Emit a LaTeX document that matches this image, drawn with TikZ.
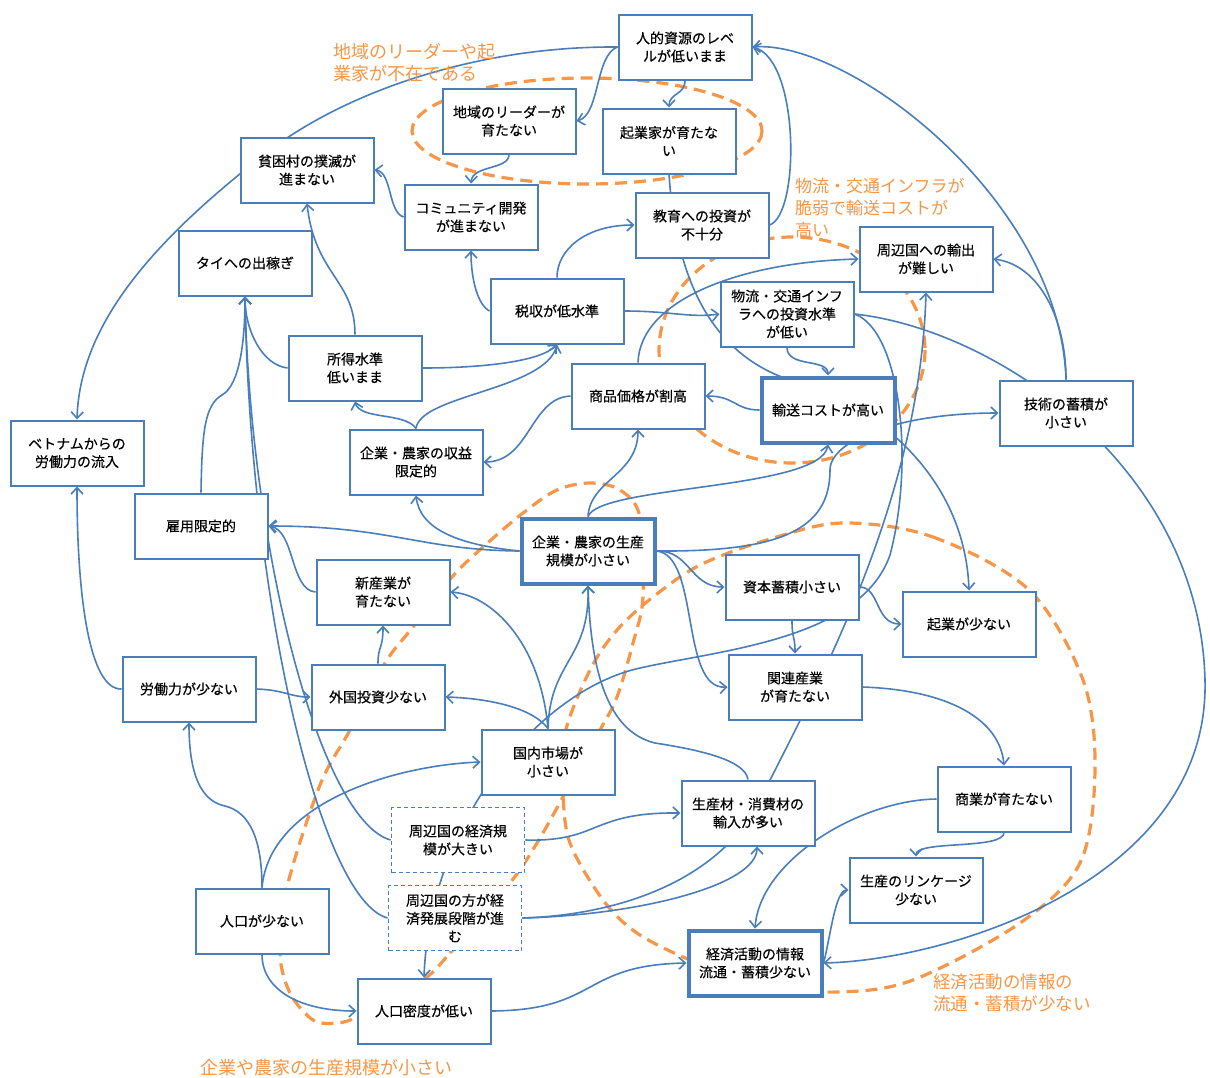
\documentclass[tikz,border=0pt]{standalone}
\usepackage{fontspec}
\setmainfont{Noto Sans CJK JP}
\newfontfamily\boxfont{Noto Sans CJK JP}[FakeBold=0.35]
\usetikzlibrary{arrows.meta}
\definecolor{blu}{HTML}{4A7EBB}
\definecolor{org}{HTML}{F79646}
\pgfdeclarelayer{back}
\pgfdeclarelayer{lines}
\pgfsetlayers{back,lines,main}
\tikzset{
  box/.style={draw=blu, line width=2pt, fill=white, minimum width=133pt,
    minimum height=65pt, align=center, inner sep=2pt,
    font=\boxfont\fontsize{14}{18}\selectfont},
  keybox/.style={box, line width=4pt},
  dbox/.style={box, line width=1.8pt, dash pattern=on 4pt off 3pt},
  conn/.style={draw=blu, line width=1.6pt, -{Straight Barb[length=6.5pt,width=12pt]}},
  ring/.style={draw=org, line width=3.2pt, dash pattern=on 12pt off 7pt},
  tag/.style={text=org, align=left, anchor=north west, inner sep=0pt}
}
\begin{document}
\begin{tikzpicture}[x=1pt,y=-1pt]
\useasboundingbox (0,0) rectangle (1210,1077);
\begin{pgfonlayer}{back}
  \fill[white] (0,0) rectangle (1210,1077);
\end{pgfonlayer}

% ---- boxes ----
\node[box] (hr)    at (685,47)  {人的資源のレベ\\ルが低いまま};
\node[box] (lead)  at (509,121) {地域のリーダーが\\育たない};
\node[box] (entr)  at (669,141) {起業家が育たな\\い};
\node[box] (pov)   at (307,170) {貧困村の撲滅が\\進まない};
\node[box] (comm)  at (471,217) {コミュニティ開発\\が進まない};
\node[box] (edu)   at (702,225) {教育への投資が\\不十分};
\node[box] (thai)  at (245,263) {タイへの出稼ぎ};
\node[box] (exp)   at (926,259) {周辺国への輸出\\が難しい};
\node[box] (tax)   at (557,311) {税収が低水準};
\node[box] (infra) at (787,314) {物流・交通インフ\\ラへの投資水準\\が低い};
\node[box] (inc)   at (355,368) {所得水準\\低いまま};
\node[box] (price) at (638,396) {商品価格が割高};
\node[keybox] (trans) at (828,410) {輸送コストが高い};
\node[box] (tech)  at (1066,413) {技術の蓄積が\\小さい};
\node[box] (viet)  at (77,453)  {ベトナムからの\\労働力の流入};
\node[box] (prof)  at (416,462) {企業・農家の収益\\限定的};
\node[box] (empl)  at (201,526) {雇用限定的};
\node[keybox] (scale) at (588,551) {企業・農家の生産\\規模が小さい};
\node[box] (newind) at (383,592) {新産業が\\育たない};
\node[box] (cap)   at (792,587) {資本蓄積小さい};
\node[box] (start) at (969,624) {起業が少ない};
\node[box] (labor) at (189,689) {労働力が少ない};
\node[box] (fdi)   at (378,697) {外国投資少ない};
\node[box] (rel)   at (795,687) {関連産業\\が育たない};
\node[box] (dom)   at (548,762) {国内市場が\\小さい};
\node[box] (imp)   at (748,813) {生産材・消費材の\\輸入が多い};
\node[box] (comm2) at (1004,799) {商業が育たない};
\node[dbox] (nbsize) at (458,840) {周辺国の経済規\\模が大きい};
\node[box] (link)  at (916,890) {生産のリンケージ\\少ない};
\node[box] (pop)   at (262,921) {人口が少ない};
\node[dbox] (nbdev) at (455,918) {周辺国の方が経\\済発展段階が進\\む};
\node[keybox] (info) at (755,963) {経済活動の情報\\流通・蓄積少ない};
\node[box] (dens)  at (424,1011) {人口密度が低い};

% ---- group labels ----
\node[tag, font=\fontsize{18}{22}\selectfont] (t1) at (333,43) {地域のリーダーや起\\業家が不在である};
\node[tag, font=\fontsize{17}{22}\selectfont] (t2) at (795,178) {物流・交通インフラが\\脆弱で輸送コストが\\高い};
\node[tag, font=\fontsize{17.5}{22}\selectfont] (t3) at (933,974) {経済活動の情報の\\流通・蓄積が少ない};
\node[tag, font=\fontsize{18}{22}\selectfont] (t4) at (200,1059) {企業や農家の生産規模が小さい};

\begin{pgfonlayer}{lines}
% ---- dashed group outlines ----
\draw[ring] (587,131) ellipse [x radius=175, y radius=53];
\draw[ring] (792,350) ellipse [x radius=133, y radius=113];
\draw[ring] plot[smooth cycle, tension=0.55] coordinates {
  (842,523) (933,537) (1029,590) (1083,680) (1095,770) (1080,863)
  (1020,923) (913,980) (837,992) (760,985) (690,960) (637,933)
  (603,900) (570,843) (563,790) (565,733) (590,670) (617,630)
  (653,597) (700,565) (767,540)};
\draw[ring] plot[smooth cycle, tension=0.55] coordinates {
  (427,977) (450,953) (510,883) (537,843) (563,797) (600,730)
  (617,697) (633,643) (643,597) (640,517) (620,490) (590,483)
  (557,490) (523,513) (483,547) (452,577) (413,627) (385,663)
  (350,730) (320,785) (287,887) (280,953) (290,993) (313,1020)
  (337,1023) (357,1017) (395,995)};

% ---- connectors ----
\draw[conn] (hr.west) .. controls (480,46) and (350,90) .. (270,150)
            .. controls (160,235) and (80,320) .. (viet.north);
\draw[conn] (hr.south) .. controls (685,95) and (669,93) .. (entr.north);
\draw[conn] (hr.west) .. controls (595,55) and (600,115) .. (lead.east);
\draw[conn] (edu.east) .. controls (800,215) and (800,60) .. (hr.east);
\draw[conn] (tech.north) .. controls (1060,200) and (850,40) .. (hr.east);
\draw[conn] (tech.north) .. controls (1066,320) and (1040,265) .. (exp.east);
\draw[conn] (lead.south) .. controls (509,170) and (472,165) .. (comm.north);
\draw[conn] (comm.west) .. controls (388,212) and (392,172) .. (pov.east);
\draw[conn] (entr.south) .. controls (675,260) and (700,350) .. (790,380)
            .. controls (880,405) and (965,480) .. (start.north);
\draw[conn] (tax.north) .. controls (557,250) and (585,225) .. (edu.west);
\draw[conn] (tax.west) .. controls (478,305) and (471,280) .. (comm.south);
\draw[conn] (tax.east) .. controls (670,311) and (690,318) .. (infra.west);
\draw[conn] (inc.east) .. controls (480,368) and (540,362) .. (tax.south);
\draw[conn] (prof.north) .. controls (420,395) and (545,390) .. (tax.south);
\draw[conn] (prof.north) .. controls (405,412) and (360,420) .. (inc.south);
\draw[conn] (inc.west) .. controls (262,365) and (245,330) .. (thai.south);
\draw[conn] (inc.north) .. controls (355,280) and (315,275) .. (pov.south);
\draw[conn] (empl.north) .. controls (202,430) and (205,405) .. (222,395)
            .. controls (240,385) and (245,340) .. (thai.south);
\draw[conn] (nbsize.west) .. controls (320,820) and (250,550) .. (thai.south);
\draw[conn] (nbdev.west) .. controls (320,900) and (250,600) .. (thai.south);
\draw[conn] (price.west) .. controls (530,398) and (530,462) .. (prof.east);
\draw[conn] (trans.west) .. controls (735,410) and (735,396) .. (price.east);
\draw[conn] (infra.south) .. controls (787,368) and (828,358) .. (trans.north);
\draw[conn] (price.north) .. controls (640,300) and (740,262) .. (exp.west);
\draw[conn] (infra.east) .. controls (1000,330) and (1200,470) .. (1205,680)
            .. controls (1210,880) and (950,960) .. (info.east);
\draw[conn] (infra.east) .. controls (900,330) and (915,460) .. (890,555)
            .. controls (860,640) and (720,650) .. (640,668)
            .. controls (540,690) and (430,820) .. (dens.north);
\draw[conn] (nbdev.east) .. controls (620,915) and (720,880) .. (760,800)
            .. controls (820,680) and (920,500) .. (exp.south);
\draw[conn] (nbdev.east) .. controls (640,915) and (757,885) .. ([xshift=9pt]imp.south);
\draw[conn] (nbsize.east) .. controls (600,842) and (590,812) .. (imp.west);
\draw[conn] (dens.east) .. controls (600,1010) and (580,965) .. (info.west);
\draw[conn] (pop.south) .. controls (262,990) and (300,1011) .. (dens.west);
\draw[conn] (pop.north) .. controls (262,840) and (250,812) .. (225,806)
            .. controls (195,800) and (189,760) .. (labor.south);
\draw[conn] (pop.north) .. controls (270,800) and (400,765) .. (dom.west);
\draw[conn] (labor.east) .. controls (285,690) and (290,697) .. (fdi.west);
\draw[conn] (labor.west) .. controls (90,690) and (77,600) .. (viet.south);
\draw[conn] (fdi.north) .. controls (378,645) and (383,650) .. (newind.south);
\draw[conn] (dom.north) .. controls (530,705) and (480,698) .. (fdi.east);
\draw[conn] (dom.north) .. controls (540,640) and (490,595) .. (newind.east);
\draw[conn] (dom.north) .. controls (550,660) and (590,660) .. (scale.south);
\draw[conn] (imp.north) .. controls (745,760) and (700,750) .. (655,743)
            .. controls (600,730) and (590,650) .. (scale.south);
\draw[conn] (scale.west) .. controls (420,550) and (390,526) .. (empl.east);
\draw[conn] (scale.west) .. controls (460,545) and (420,530) .. (prof.south);
\draw[conn] (newind.west) .. controls (290,590) and (295,530) .. (empl.east);
\draw[conn] (scale.north) .. controls (590,480) and (638,475) .. (price.south);
\draw[conn] (scale.north) .. controls (600,485) and (820,490) .. (trans.south);
\draw[conn] (scale.east) .. controls (780,552) and (830,530) .. (830,470)
            .. controls (830,440) and (900,413) .. (tech.west);
\draw[conn] (scale.east) .. controls (690,550) and (690,587) .. (cap.west);
\draw[conn] (scale.east) .. controls (700,555) and (680,690) .. (rel.west);
\draw[conn] (cap.south) .. controls (792,640) and (795,635) .. (rel.north);
\draw[conn] (cap.east) .. controls (880,587) and (875,624) .. (start.west);
\draw[conn] (rel.east) .. controls (950,690) and (1000,720) .. (comm2.north);
\draw[conn] (comm2.south) .. controls (1004,850) and (916,840) .. (link.north);
\draw[conn] (comm2.west) .. controls (860,800) and (760,860) .. (info.north);
\draw[conn] (info.east) .. controls (830,940) and (835,890) .. (link.west);
\end{pgfonlayer}
\end{tikzpicture}
\end{document}
